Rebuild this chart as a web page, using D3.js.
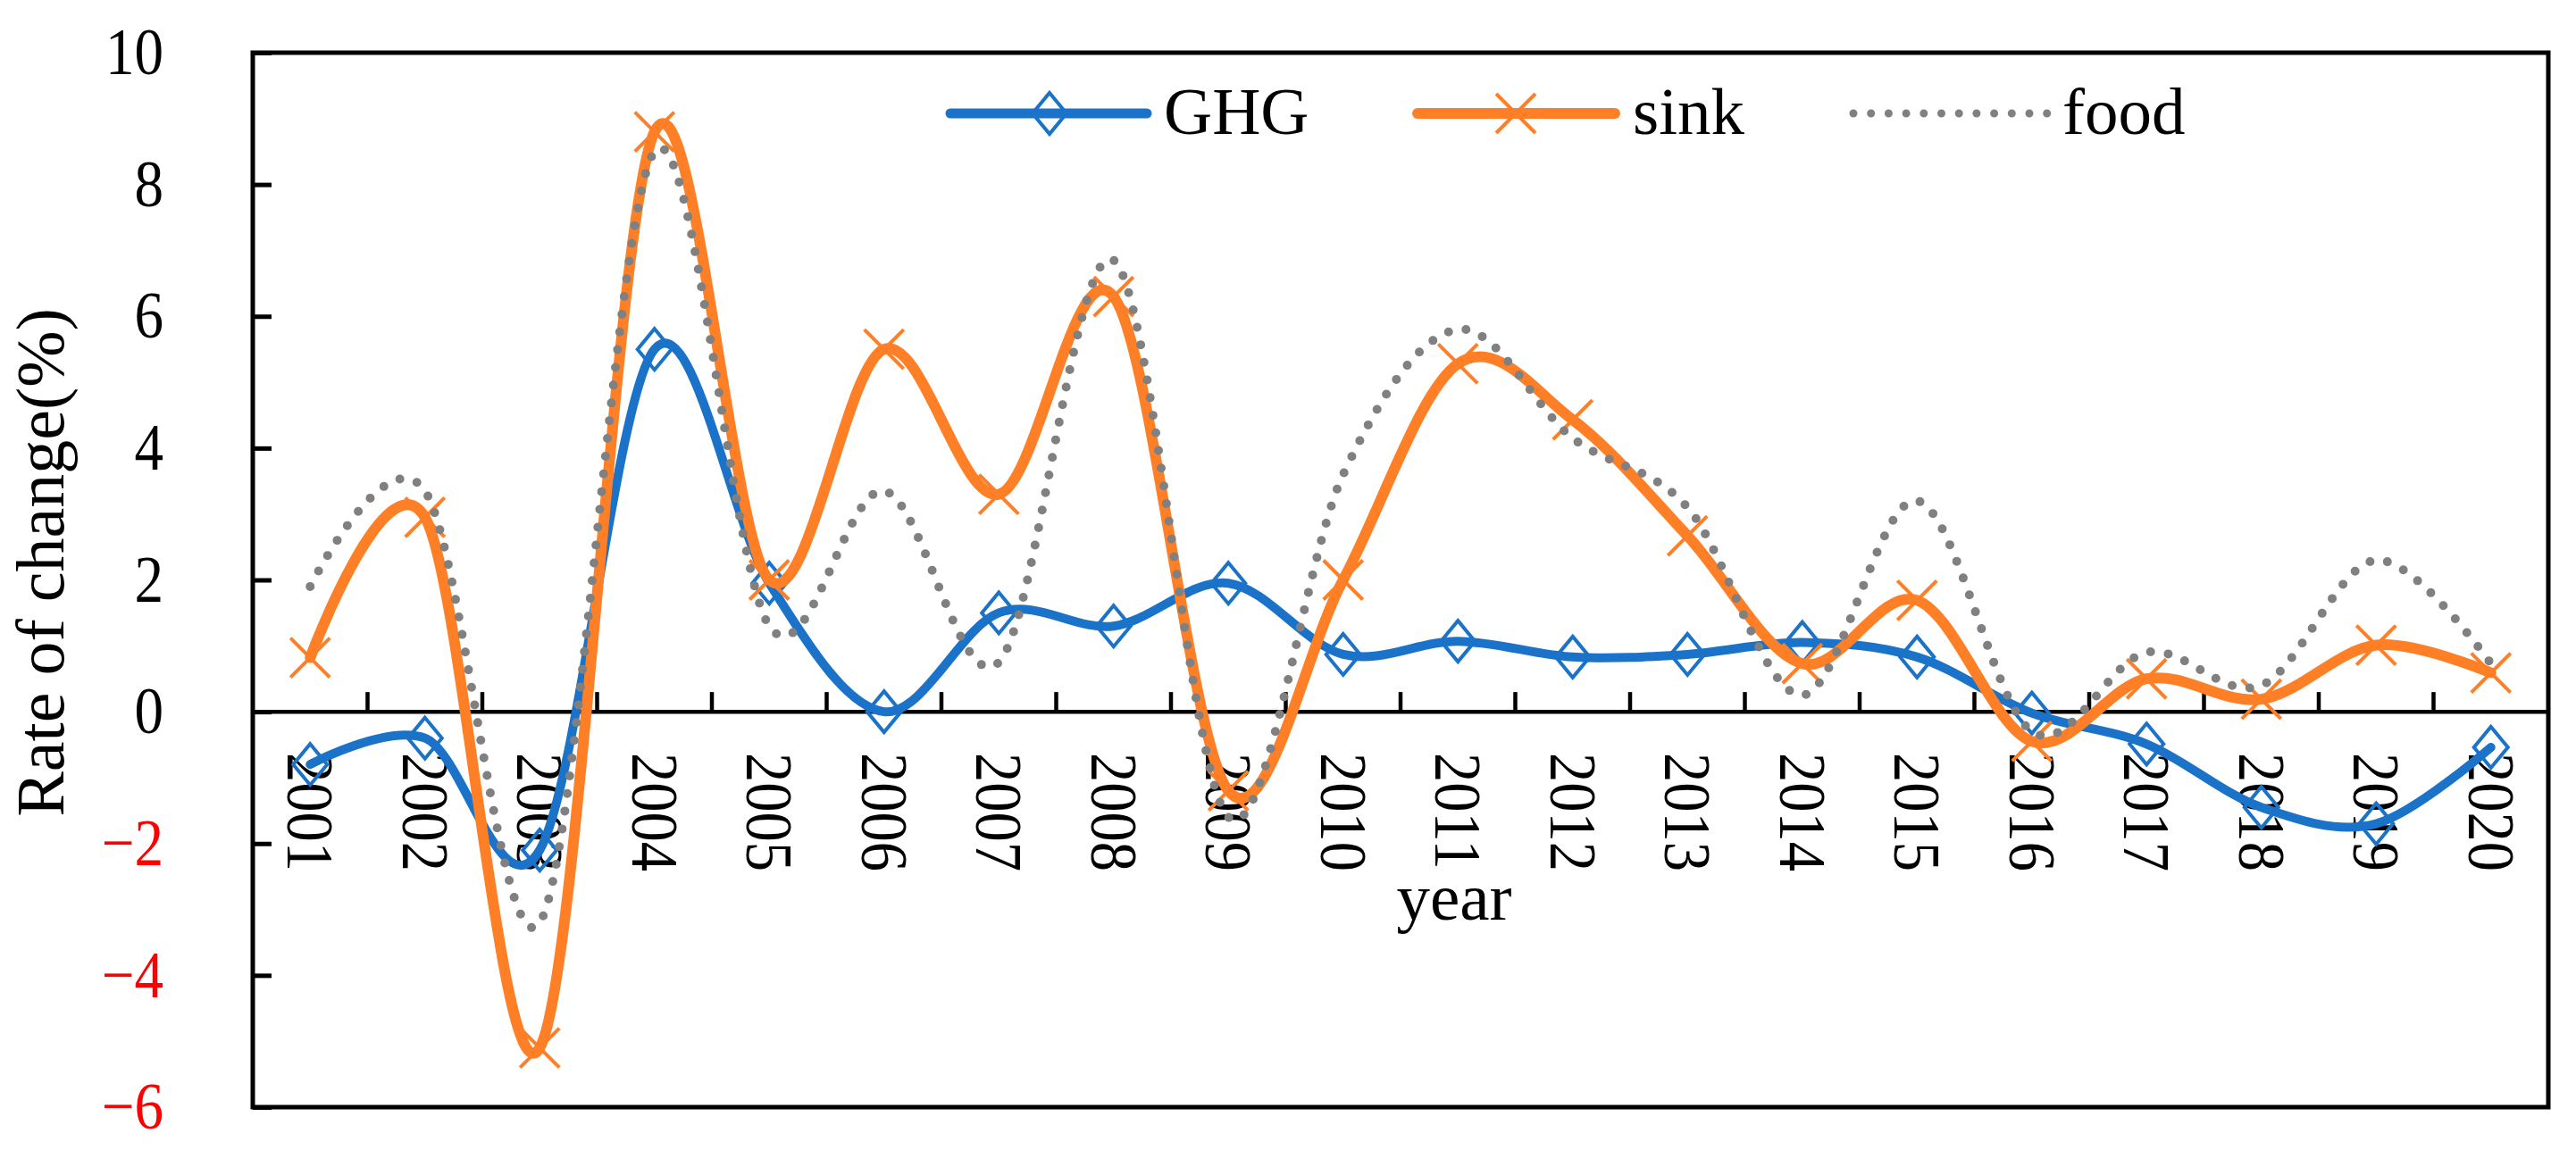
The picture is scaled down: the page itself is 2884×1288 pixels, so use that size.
<!DOCTYPE html>
<html>
<head>
<meta charset="utf-8">
<script src="https://cdn.jsdelivr.net/npm/d3@7"></script>
<style>
  html, body { margin: 0; padding: 0; background: #fff; }
  svg { display: block; }
  text { font-family: "Liberation Serif", "Times New Roman", serif; }
</style>
</head>
<body>
<svg id="chart" width="2884" height="1288"></svg>
<script>
// ---- data ----
const years = ["2001","2002","2003","2004","2005","2006","2007","2008","2009","2010",
               "2011","2012","2013","2014","2015","2016","2017","2018","2019","2020"];
const ghg  = [-0.8, -0.4, -2.1, 5.5, 1.95, 0.0, 1.5, 1.3, 1.95, 0.87,
               1.07, 0.83, 0.87, 1.05, 0.83, -0.02, -0.49, -1.45, -1.7, -0.54];
const sink = [0.82, 2.95, -5.1, 8.8, 2.0, 5.5, 3.3, 6.3, -1.2, 2.0,
               5.28, 4.43, 2.67, 0.73, 1.69, -0.45, 0.5, 0.19, 1.01, 0.59];
const food = [1.9, 3.35, -3.2, 8.5, 1.3, 3.35, 0.75, 6.85, -1.6, 3.6,
               5.8, 4.15, 3.1, 0.25, 3.2, -0.3, 0.9, 0.4, 2.3, 0.73];
const yTicks = [-6, -4, -2, 0, 2, 4, 6, 8, 10];
const seriesNames = ["GHG", "sink", "food"];

// ---- layout ----
const W = 2884, H = 1288;
const L = 283, R = 2853, T = 59, B = 1240;
const svg = d3.select("#chart");

const x = d3.scaleBand().domain(years).range([L, R]).padding(0);
const y = d3.scaleLinear().domain([-6, 10]).range([B, T]);
const cx = d => x(d) + x.bandwidth() / 2;

const colors = { GHG: "#1a73c8", sink: "#ff7f27", food: "#808080" };

// ---- y axis (ticks inside, labels left) ----
const yAxis = d3.axisLeft(y).tickValues(yTicks).tickSize(-21).tickPadding(100)
  .tickFormat(d => d < 0 ? "\u2212" + Math.abs(d) : String(d));
const gy = svg.append("g").attr("transform", `translate(${L},0)`).call(yAxis);
gy.select(".domain").remove();
gy.selectAll(".tick line").attr("stroke", "#000").attr("stroke-width", 5);
gy.selectAll(".tick text")
  .attr("font-family", "Liberation Serif, Times New Roman, serif")
  .attr("font-size", 74)
  .attr("x", -100 / 0.88)
  .attr("transform", "scale(0.88,1)")
  .attr("fill", d => d < 0 ? "#ff0000" : "#000");

// ---- x axis at y = 0 ----
const y0 = y(0);
svg.append("line").attr("x1", L).attr("x2", R).attr("y1", y0).attr("y2", y0)
  .attr("stroke", "#000").attr("stroke-width", 4.5);
// ticks at category boundaries, pointing up
svg.append("g").selectAll("line").data(years.slice(1)).join("line")
  .attr("x1", d => x(d)).attr("x2", d => x(d))
  .attr("y1", y0).attr("y2", y0 - 22)
  .attr("stroke", "#000").attr("stroke-width", 4.5);
// rotated labels
svg.append("g").selectAll("g").data(years).join("g")
  .attr("transform", d => `translate(${cx(d)},843) rotate(90) scale(0.9,1)`)
  .append("text")
  .attr("y", 25)
  .attr("font-size", 74)
  .attr("fill", "#000")
  .text(d => d);

// ---- frame ----
svg.append("rect").attr("x", L).attr("y", T).attr("width", R - L).attr("height", B - T)
  .attr("fill", "none").attr("stroke", "#000").attr("stroke-width", 5);

// ---- axis titles ----
svg.append("text")
  .attr("transform", "translate(71,630) rotate(-90)")
  .attr("text-anchor", "middle").attr("font-size", 76).attr("fill", "#000")
  .text("Rate of change(%)");
svg.append("text")
  .attr("x", 1628).attr("y", 1030)
  .attr("text-anchor", "middle").attr("font-size", 75).attr("fill", "#000")
  .text("year");

// ---- series ----
const line = d3.line().x((d, i) => cx(years[i])).y(d => y(d)).curve(d3.curveCatmullRom.alpha(0));
const diamond = "M0,-23L19,0L0,23L-19,0Z";
const cross = "M-22,-22L22,22M-22,22L22,-22";

// GHG
svg.append("path").datum(ghg).attr("d", line)
  .attr("fill", "none").attr("stroke", colors.GHG).attr("stroke-width", 10)
  .attr("stroke-linecap", "round").attr("stroke-linejoin", "round");
svg.append("g").selectAll("path").data(ghg).join("path")
  .attr("transform", (d, i) => `translate(${cx(years[i])},${y(d)})`)
  .attr("d", diamond).attr("fill", "none").attr("stroke", colors.GHG).attr("stroke-width", 4);

// sink
svg.append("path").datum(sink).attr("d", line)
  .attr("fill", "none").attr("stroke", colors.sink).attr("stroke-width", 12)
  .attr("stroke-linecap", "round").attr("stroke-linejoin", "round");
svg.append("g").selectAll("path").data(sink).join("path")
  .attr("transform", (d, i) => `translate(${cx(years[i])},${y(d)})`)
  .attr("d", cross).attr("fill", "none").attr("stroke", colors.sink).attr("stroke-width", 4);

// food
svg.append("path").datum(food).attr("d", line)
  .attr("fill", "none").attr("stroke", colors.food).attr("stroke-width", 10)
  .attr("stroke-linecap", "round").attr("stroke-dasharray", "0 20");

// ---- legend ----
const legY = 127, legTextY = 150;
const leg = svg.append("g");
// GHG
leg.append("line").attr("x1", 1064).attr("x2", 1284).attr("y1", legY).attr("y2", legY)
  .attr("stroke", colors.GHG).attr("stroke-width", 11).attr("stroke-linecap", "round");
leg.append("path").attr("transform", `translate(1175,${legY})`).attr("d", diamond)
  .attr("fill", "none").attr("stroke", colors.GHG).attr("stroke-width", 4);
leg.append("text").attr("x", 1303).attr("y", legTextY).attr("font-size", 75).text(seriesNames[0]);
// sink
leg.append("line").attr("x1", 1587).attr("x2", 1808).attr("y1", legY).attr("y2", legY)
  .attr("stroke", colors.sink).attr("stroke-width", 12).attr("stroke-linecap", "round");
leg.append("path").attr("transform", `translate(1697,${legY})`).attr("d", cross)
  .attr("fill", "none").attr("stroke", colors.sink).attr("stroke-width", 4);
leg.append("text").attr("x", 1828).attr("y", legTextY).attr("font-size", 75).text(seriesNames[1]);
// food
leg.append("line").attr("x1", 2075).attr("x2", 2292).attr("y1", legY).attr("y2", legY)
  .attr("stroke", colors.food).attr("stroke-width", 9).attr("stroke-linecap", "round")
  .attr("stroke-dasharray", "0 19.7");
leg.append("text").attr("x", 2309).attr("y", legTextY).attr("font-size", 75).text(seriesNames[2]);
</script>
</body>
</html>
